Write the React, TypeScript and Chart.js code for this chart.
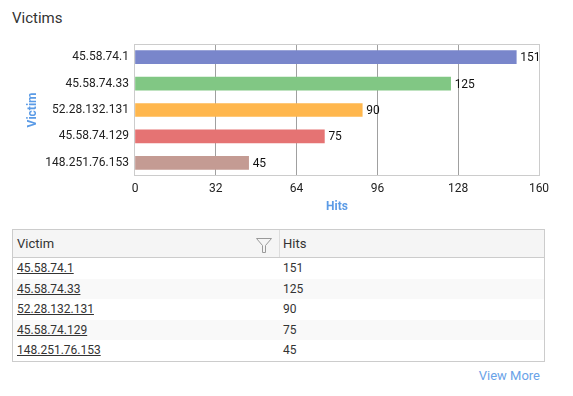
import React, { useEffect, useRef } from "react";
import { Chart, registerables } from "chart.js";

Chart.register(...registerables);

const victims = ["45.58.74.1", "45.58.74.33", "52.28.132.131", "45.58.74.129", "148.251.76.153"];
const hits = [151, 125, 90, 75, 45];
const barColors = ["#7986cb", "#81c784", "#ffb74d", "#e57373", "#c49b93"];
const xTicks = [0, 32, 64, 96, 128, 160];

const FONT = "Roboto, 'Noto Sans', sans-serif";

const borderPlugin = {
  id: "plotBorder",
  beforeDatasetsDraw(chart: any) {
    const { ctx, chartArea } = chart;
    ctx.save();
    ctx.strokeStyle = "#cccccc";
    ctx.lineWidth = 1;
    ctx.strokeRect(
      Math.round(chartArea.left) - 0.5,
      Math.round(chartArea.top) + 0.5,
      Math.round(chartArea.right - chartArea.left) + 1,
      Math.round(chartArea.bottom - chartArea.top) - 1
    );
    ctx.restore();
  },
};

const valueLabelPlugin = {
  id: "valueLabels",
  afterDatasetsDraw(chart: any) {
    const { ctx } = chart;
    const meta = chart.getDatasetMeta(0);
    const data = chart.data.datasets[0].data;
    ctx.save();
    ctx.font = `12px ${FONT}`;
    ctx.fillStyle = "#111111";
    ctx.textAlign = "left";
    ctx.textBaseline = "middle";
    meta.data.forEach((bar: any, i: number) => {
      ctx.fillText(String(data[i]), bar.x + 4, bar.y + 1);
    });
    ctx.restore();
  },
};

function BarChart() {
  const ref = useRef<HTMLCanvasElement>(null);
  useEffect(() => {
    if (!ref.current) return;
    const chart = new Chart(ref.current, {
      type: "bar",
      data: {
        labels: victims,
        datasets: [
          {
            data: hits,
            backgroundColor: barColors,
            barThickness: 13,
            borderWidth: 0,
          },
        ],
      },
      options: {
        indexAxis: "y",
        animation: false,
        responsive: false,
        maintainAspectRatio: false,
        layout: { padding: { top: 14, right: 34, left: 0, bottom: 0 } },
        plugins: {
          legend: { display: false },
          tooltip: { enabled: false },
        },
        scales: {
          x: {
            type: "linear",
            min: 0,
            max: 160,
            afterBuildTicks(scale: any) {
              scale.ticks = xTicks.map((v) => ({ value: v }));
            },
            afterFit(scale: any) {
              scale.height = 44;
            },
            grid: {
              drawTicks: false,
              color: (c: any) =>
                c.index === 0 || c.index === xTicks.length - 1 ? "rgba(0,0,0,0)" : "#a0a0a0",
            },
            border: { display: false },
            ticks: {
              padding: 6,
              color: "#222222",
              font: { family: FONT, size: 12 },
            },
            title: {
              display: true,
              text: "Hits",
              color: "#5b9be6",
              font: { family: FONT, size: 12, weight: "bold" },
              padding: { top: 0, bottom: 6 },
            },
          },
          y: {
            afterFit(scale: any) {
              scale.width = 135;
            },
            grid: { display: false, drawTicks: false },
            border: { display: false },
            ticks: {
              padding: 6,
              color: "#222222",
              font: { family: FONT, size: 12 },
            },
            title: {
              display: true,
              text: "Victim",
              color: "#5b9be6",
              font: { family: FONT, size: 12, weight: "bold" },
              padding: { top: 26, bottom: 0 },
            },
          },
        },
      },
      plugins: [borderPlugin, valueLabelPlugin],
    } as any);
    return () => chart.destroy();
  }, []);
  return <canvas ref={ref} width={573} height={190} style={{ width: 573, height: 190, display: "block" }} />;
}

function FilterIcon() {
  return (
    <svg width="16" height="15" viewBox="0 0 16 15" style={{ position: "absolute", left: 243, top: 8 }}>
      <path d="M0.5 0.5 L15.5 0.5 L9.5 7.5 L9.5 14.5 L6.5 14.5 L6.5 7.5 Z" fill="none" stroke="#9a9a9a" strokeWidth="1" />
    </svg>
  );
}

export default function App() {
  return (
    <div style={{ position: "absolute", left: 0, top: 0, width: 573, height: 396, fontFamily: FONT, color: "#333", background: "#fff" }}>
      <div style={{ position: "absolute", left: 12, top: 10.7, fontSize: 15, lineHeight: "15px", color: "#333" }}>Victims</div>
      <div style={{ position: "absolute", left: 0, top: 30 }}>
        <BarChart />
      </div>
      <div
        style={{
          position: "absolute",
          left: 12,
          top: 229,
          width: 533,
          boxSizing: "border-box",
          border: "1px solid #cccccc",
        }}
      >
        <div style={{ position: "relative", height: 27, background: "#f5f5f5", borderBottom: "1px solid #cccccc", fontSize: 13 }}>
          <div style={{ position: "absolute", left: 4, top: 0, lineHeight: "27px" }}>Victim</div>
          <FilterIcon />
          <div style={{ position: "absolute", left: 266, top: 0, width: 1, height: 27, background: "#dddddd" }} />
          <div style={{ position: "absolute", left: 270, top: 0, lineHeight: "27px" }}>Hits</div>
        </div>
        {victims.map((v, i) => (
          <div key={v} style={{ position: "relative", height: 20.5, background: i % 2 === 1 ? "#f9f9f9" : "#ffffff", fontSize: 12 }}>
            <div style={{ position: "absolute", left: 4, top: 0, lineHeight: "20.5px", textDecoration: "underline", color: "#333" }}>{v}</div>
            <div style={{ position: "absolute", left: 270, top: 0, lineHeight: "20.5px", color: "#333" }}>{hits[i]}</div>
          </div>
        ))}
      </div>
      <div style={{ position: "absolute", right: 33, top: 368, fontSize: 13, lineHeight: "16px", color: "#6aa3e8" }}>View More</div>
    </div>
  );
}
